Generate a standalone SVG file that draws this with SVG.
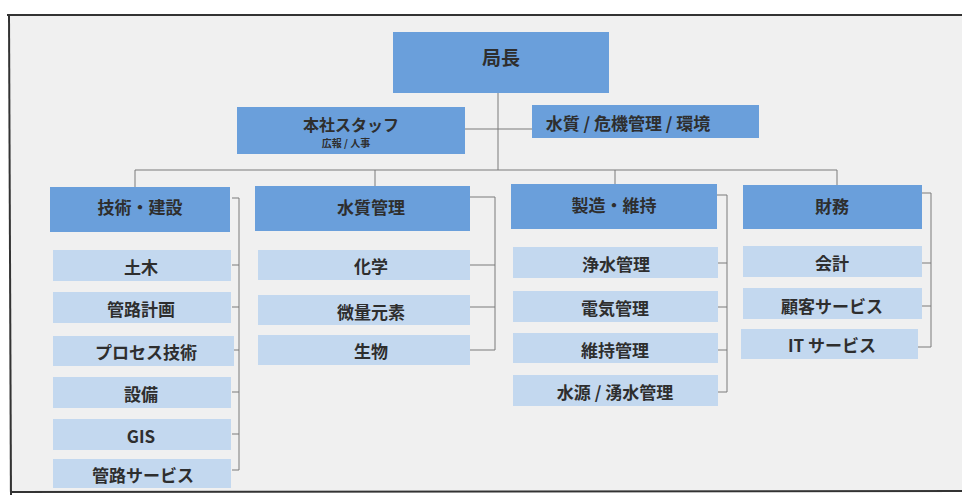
<svg xmlns="http://www.w3.org/2000/svg" width="962" height="495" viewBox="0 0 962 495">
<style>
text{font-family:"Noto Sans CJK JP","Noto Sans",sans-serif;font-weight:bold;fill:#2e2e2e;text-anchor:middle;dominant-baseline:central}
.h{fill:#6a9fdb}
.c{fill:#c3d8ef}
.t1{font-size:17px}
.t2{font-size:17px}
.ln{stroke:#7a7a7a;stroke-width:1;fill:none}
</style>
<rect x="0" y="0" width="962" height="495" fill="#ffffff"/>
<rect x="9" y="15" width="953" height="477" fill="#f0f0f0"/>
<g id="frame" stroke="#333" stroke-width="2" fill="none">
<line x1="7" y1="15" x2="962" y2="15"/>
<line x1="9" y1="15" x2="11" y2="495"/>
<line x1="11" y1="492" x2="962" y2="491"/>
</g>
<g id="connectors" class="ln">
<line x1="498" y1="93" x2="498" y2="170"/>
<line x1="465" y1="129" x2="532" y2="129"/>
<line x1="135" y1="170" x2="837" y2="170"/>
<line x1="135" y1="170" x2="135" y2="187"/>
<line x1="375" y1="170" x2="375" y2="186"/>
<line x1="615" y1="170" x2="615" y2="184"/>
<line x1="837" y1="170" x2="837" y2="185"/>
<path d="M232 198H239V470H232M232 265H239M232 307H239M232 350H239M232 392H239M232 434H239"/>
<path d="M470 197H495V350H470M470 265H495M470 307H495"/>
<path d="M717 195H727V392H718M718 263H727M718 307H727M718 350H727"/>
<path d="M922 193H931V347H918M922 263H931M922 306H931"/>
</g>
<g id="n-kyokucho"><rect class="h" x="393" y="32" width="216" height="61"/><text x="501" y="56" style="font-size:19px">局長</text></g>
<g id="n-honsha"><rect class="h" x="237" y="107" width="228" height="47"/><text x="351" y="124" style="font-size:16px">本社スタッフ</text><text x="346" y="142" style="font-size:10px">広報 / 人事</text></g>
<g id="n-suishitsu-kiki"><rect class="h" x="532" y="105" width="227" height="33"/><text x="628" y="122" style="font-size:17px">水質 / 危機管理 / 環境</text></g>

<g id="n-gijutsu"><rect class="h" x="50" y="187" width="180" height="45"/><text class="t1" x="140" y="206">技術・建設</text></g>
<g id="n-doboku"><rect class="c" x="53" y="250" width="178" height="31"/><text class="t2" x="141" y="266">土木</text></g>
<g id="n-kanro-keikaku"><rect class="c" x="53" y="292" width="178" height="31"/><text class="t2" x="141" y="308">管路計画</text></g>
<g id="n-process"><rect class="c" x="53" y="336" width="181" height="30"/><text class="t2" x="146" y="351">プロセス技術</text></g>
<g id="n-setsubi"><rect class="c" x="53" y="377" width="178" height="31"/><text class="t2" x="141" y="393">設備</text></g>
<g id="n-gis"><rect class="c" x="53" y="419" width="178" height="31"/><text class="t2" x="141" y="435">GIS</text></g>
<g id="n-kanro-service"><rect class="c" x="53" y="459" width="178" height="29"/><text class="t2" x="143" y="474">管路サービス</text></g>

<g id="n-suishitsu"><rect class="h" x="255" y="186" width="215" height="45"/><text class="t1" x="371" y="206">水質管理</text></g>
<g id="n-kagaku"><rect class="c" x="258" y="250" width="212" height="30"/><text class="t2" x="371" y="265">化学</text></g>
<g id="n-biryo"><rect class="c" x="258" y="295" width="212" height="30"/><text class="t2" x="371" y="311">微量元素</text></g>
<g id="n-seibutsu"><rect class="c" x="258" y="335" width="212" height="30"/><text class="t2" x="371" y="350">生物</text></g>

<g id="n-seizo"><rect class="h" x="511" y="184" width="206" height="45"/><text class="t1" x="614" y="204">製造・維持</text></g>
<g id="n-josui"><rect class="c" x="513" y="247" width="205" height="31"/><text class="t2" x="616" y="263">浄水管理</text></g>
<g id="n-denki"><rect class="c" x="513" y="291" width="205" height="31"/><text class="t2" x="615" y="307">電気管理</text></g>
<g id="n-iji"><rect class="c" x="513" y="333" width="205" height="30"/><text class="t2" x="615" y="349">維持管理</text></g>
<g id="n-suigen"><rect class="c" x="513" y="375" width="205" height="31"/><text class="t2" x="615" y="391">水源 / 湧水管理</text></g>

<g id="n-zaimu"><rect class="h" x="743" y="185" width="179" height="44"/><text class="t1" x="832" y="205">財務</text></g>
<g id="n-kaikei"><rect class="c" x="743" y="246" width="179" height="31"/><text class="t2" x="832" y="262">会計</text></g>
<g id="n-kokyaku"><rect class="c" x="743" y="288" width="179" height="31"/><text class="t2" x="832" y="305">顧客サービス</text></g>
<g id="n-it"><rect class="c" x="741" y="329" width="177" height="30"/><text class="t2" x="832" y="344">IT サービス</text></g>
</svg>
